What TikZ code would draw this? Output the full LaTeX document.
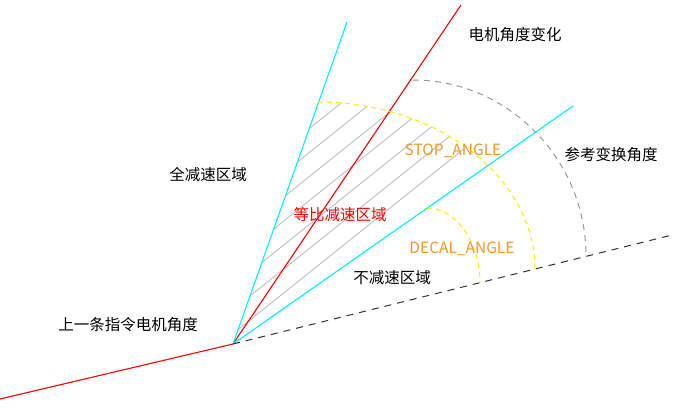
\documentclass[tikz,border=0pt]{standalone}
\usepackage{fontspec}
\usetikzlibrary{calc}
\newfontfamily\cjk{Noto Sans CJK SC}
\definecolor{cyn}{RGB}{0,240,255}
\definecolor{ylc}{RGB}{250,240,0}
\definecolor{org}{RGB}{245,150,40}
\begin{document}
\begin{tikzpicture}[x=1pt,y=-1pt,
  lbl/.style={font=\cjk\fontsize{15.5}{18}\selectfont,inner sep=0pt},
  ylw/.style={draw=ylc,dash pattern=on 5pt off 4pt,line width=1pt},
  cy/.style={draw=cyn,line width=1.1pt}]
\useasboundingbox (0,0) rectangle (682,409);
\coordinate (O) at (233,344);
\coordinate (L) at (0,399);
\coordinate (R) at (461,5);
\coordinate (C1) at (347,22);
\coordinate (C2) at (573,106);
\coordinate (D) at (672,235);
% hatch
\begin{scope}
\clip (O) -- (318,102) .. controls (437,102) and (535,177) .. (535,269) -- cycle;
\clip (O) -- (347,22) -- (700,-20) -- (700,0) -- (573,106) -- cycle;
\foreach \i in {0,...,26} {
  \draw[gray!55,line width=0.8pt] ($(200,360)+(0,-\i*24)$) -- ++(500,-400);
}
\end{scope}
\draw[red,line width=1.1pt] (L) -- (O) -- (R);
\draw[cy] (O) -- (C1);
\draw[cy] (O) -- (C2);
\draw[black!80,line width=1pt,dash pattern=on 7pt off 6pt] (O) -- (D);
\draw[ylw] (318,102) .. controls (437,102) and (535,177) .. (535,269);
\draw[ylw] (427,208) .. controls (456,208) and (480,242) .. (480,283);
\draw[gray!80,line width=1pt,dash pattern=on 6pt off 5pt] (413,80) .. controls (508,80) and (586,159) .. (586,256);
\node[lbl] (t1) at (515,35) {电机角度变化};
\node[lbl] (t2) at (611,155) {参考变换角度};
\node[lbl] (t3) at (208,175) {全减速区域};
\node[lbl,text=org] (t4) at (453,151) {STOP\_ANGLE};
\node[lbl,text=red] (t5) at (340,215) {等比减速区域};
\node[lbl,text=org] (t6) at (462,249) {DECAL\_ANGLE};
\node[lbl] (t7) at (392,278) {不减速区域};
\node[lbl] (t8) at (128,325) {上一条指令电机角度};
\end{tikzpicture}
\end{document}
